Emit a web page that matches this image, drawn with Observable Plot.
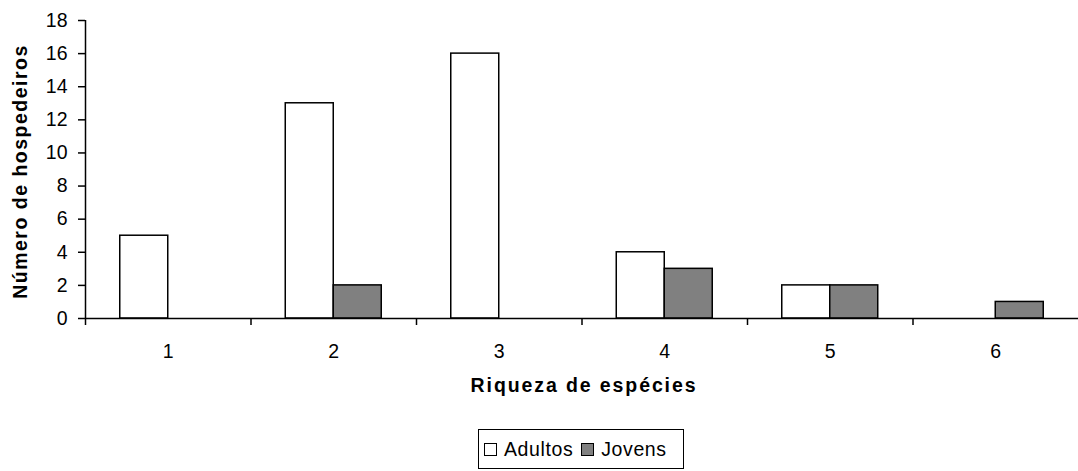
<!DOCTYPE html>
<html>
<head>
<meta charset="utf-8">
<script src="https://cdn.jsdelivr.net/npm/d3@7"></script>
<script src="https://cdn.jsdelivr.net/npm/@observablehq/plot@0.6"></script>
<style>
  html, body { margin: 0; padding: 0; background: #fff; }
  body { font-family: "Liberation Sans", Arial, sans-serif; position: relative; width: 1078px; height: 471px; overflow: hidden; }
  #legend {
    position: absolute; left: 478px; top: 429px; width: 204px; height: 38px;
    border: 1px solid #000; display: flex; align-items: center;
    font-size: 19.5px; letter-spacing: 0.6px; color: #000; box-sizing: content-box;
  }
  .sw { display: inline-block; width: 11px; height: 11px; border: 1.5px solid #000; margin-right: 7px; }
  .item { display: flex; align-items: center; }
  .item:first-child { margin-left: 5px; margin-right: 8px; }
</style>
</head>
<body>
<div id="chart"></div>
<div id="legend"></div>
<script>
// Species richness per host and number of hosts, adults vs. juveniles
const riqueza = [1, 2, 3, 4, 5, 6];
const adultos = [5, 13, 16, 4, 2, 0];
const jovens  = [0, 2, 0, 3, 2, 1];
const series = ["Adultos", "Jovens"];
const colors = ["#ffffff", "#808080"];
const yTicks = [0, 2, 4, 6, 8, 10, 12, 14, 16, 18];
const xTitle = "Riqueza de espécies";
const yTitle = "Número de hospedeiros";

const barWidth = 0.29; // fraction of a category occupied by each bar

const rows = [];
riqueza.forEach((r, i) => {
  rows.push({riqueza: r, serie: "Adultos", n: adultos[i]});
  rows.push({riqueza: r, serie: "Jovens", n: jovens[i]});
});
const bars = rows.filter(d => d.n > 0);

// category boundaries where the x-axis ticks sit
const boundaries = riqueza.map(r => r - 0.5);

const font = '"Liberation Sans", Arial, sans-serif';

const chart = Plot.plot({
  width: 1078,
  height: 420,
  marginLeft: 85,
  marginRight: 0,
  marginTop: 20,
  marginBottom: 102,
  style: {fontFamily: font, fontSize: "19.5px", color: "#000", background: "#fff"},
  x: {type: "linear", domain: [0.5, 6.5]},
  y: {domain: [0, 18]},
  color: {domain: series, range: colors},
  marks: [
    Plot.rectY(bars, {
      x1: d => d.serie === "Adultos" ? d.riqueza - barWidth : d.riqueza,
      x2: d => d.serie === "Adultos" ? d.riqueza : d.riqueza + barWidth,
      y1: 0,
      y2: "n",
      fill: "serie",
      stroke: "#000",
      strokeWidth: 1.5
    }),
    Plot.ruleY([0], {stroke: "#000", strokeWidth: 1.5}),
    Plot.ruleX([0.5], {y1: 0, y2: 18, stroke: "#000", strokeWidth: 1.5}),
    Plot.axisY(yTicks, {tickSize: 7, tickPadding: 11, tickFormat: d => String(d), label: null, strokeWidth: 1.5}),
    Plot.axisX(boundaries, {tickSize: 7, tickFormat: () => "", label: null, strokeWidth: 1.5}),
    Plot.axisX(riqueza, {tickSize: 0, tickPadding: 26, tickFormat: d => String(d), label: null}),
    Plot.text([xTitle], {
      frameAnchor: "bottom", dx: 2, dy: 73, fontWeight: "bold", fontSize: 19.5
    }),
    Plot.text([yTitle], {
      frameAnchor: "left", textAnchor: "middle", rotate: -90, dx: -65, dy: 2,
      fontWeight: "bold", fontSize: 19.5
    })
  ]
});
document.getElementById("chart").appendChild(chart);

// wider tracking on the axis titles
d3.select(chart).selectAll("text").each(function() {
  if (this.textContent === xTitle) this.style.letterSpacing = "1.9px";
  if (this.textContent === yTitle) this.style.letterSpacing = "1.5px";
});

const legend = d3.select("#legend");
series.forEach((s, i) => {
  const item = legend.append("span").attr("class", "item");
  item.append("span").attr("class", "sw").style("background", colors[i]);
  item.append("span").text(s);
});
</script>
</body>
</html>
